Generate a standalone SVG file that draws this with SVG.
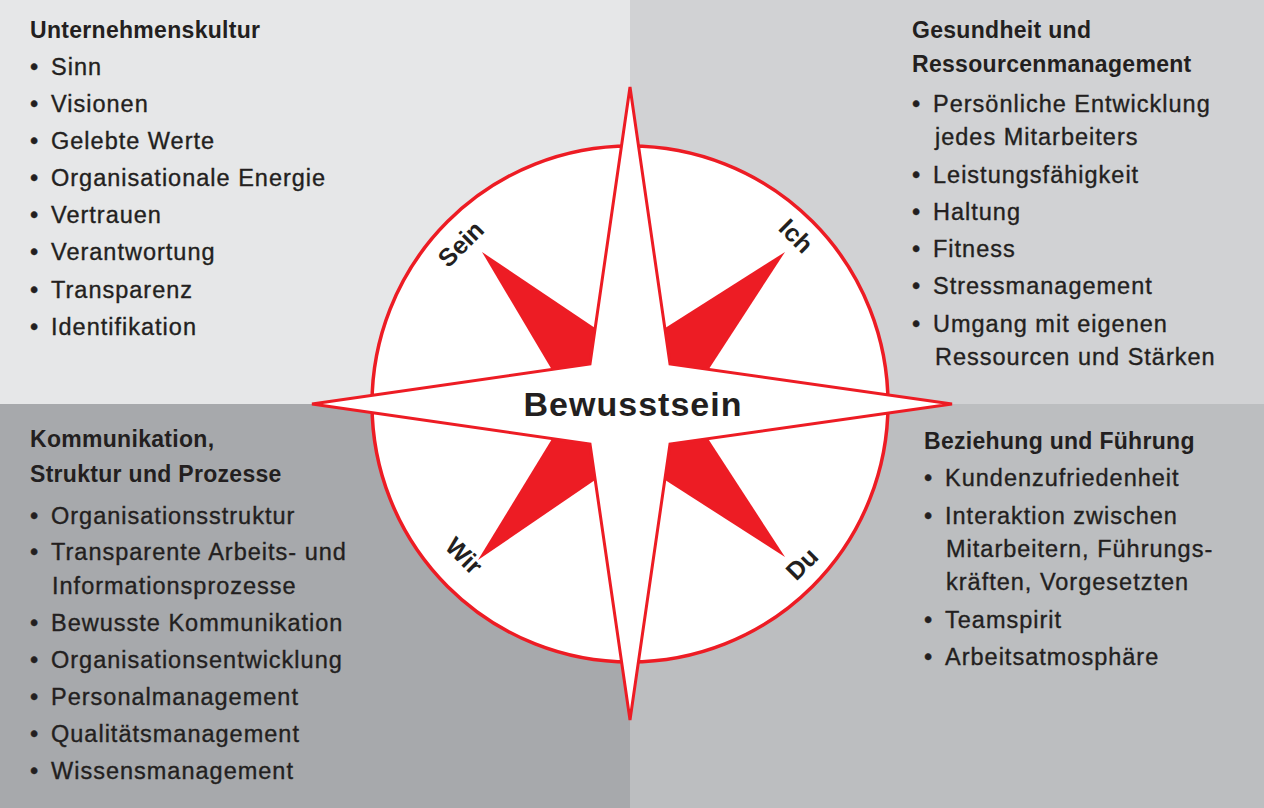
<svg xmlns="http://www.w3.org/2000/svg" width="1264" height="808" viewBox="0 0 1264 808">
<style>
text{font-family:"Liberation Sans",Arial,sans-serif;fill:#231f20}
.h{font-size:23px;font-weight:bold;letter-spacing:0.3px}
.i{font-size:23.5px;letter-spacing:1px;stroke:#231f20;stroke-width:0.35}
.d{font-size:25px;font-weight:bold}
.red{fill:#ed1c24}
</style>
<g id="background">
<rect x="0" y="0" width="630" height="404" fill="#e6e7e8"/>
<rect x="630" y="0" width="634" height="404" fill="#d1d2d4"/>
<rect x="0" y="404" width="630" height="404" fill="#a7a9ac"/>
<rect x="630" y="404" width="634" height="404" fill="#bcbec0"/>
</g>
<g id="compass">
<circle cx="630" cy="404" r="258" fill="#fff" stroke="#ed1c24" stroke-width="3.5"/>
<polygon class="red" points="482,252 555,375 630,404 598,330"/>
<polygon class="red" points="785,252 705,375 630,404 662,330"/>
<polygon class="red" points="478,560 555,434 630,404 598,478"/>
<polygon class="red" points="785,557 705,434 630,404 662,478"/>
<polygon points="630,87 670,364 952,404 670,444 630,720 590,444 312,404 590,364" fill="#fff" stroke="#ed1c24" stroke-width="3"/>
<text x="633" y="416" text-anchor="middle" style="font-size:34px;font-weight:bold;letter-spacing:1px">Bewusstsein</text>
<text class="d" transform="translate(467,250) rotate(-45)" text-anchor="middle">Sein</text>
<text class="d" transform="translate(790,242) rotate(45)" text-anchor="middle">Ich</text>
<text class="d" transform="translate(458,562) rotate(45)" text-anchor="middle">Wir</text>
<text class="d" transform="translate(808,570) rotate(-45)" text-anchor="middle">Du</text>
</g>
<g id="q-top-left">
<text class="h" x="30" y="38">Unternehmenskultur</text>
<text class="i" x="30" y="75">•<tspan x="51">Sinn</tspan></text>
<text class="i" x="30" y="112">•<tspan x="51">Visionen</tspan></text>
<text class="i" x="30" y="149">•<tspan x="51">Gelebte Werte</tspan></text>
<text class="i" x="30" y="186">•<tspan x="51">Organisationale Energie</tspan></text>
<text class="i" x="30" y="223">•<tspan x="51">Vertrauen</tspan></text>
<text class="i" x="30" y="260">•<tspan x="51">Verantwortung</tspan></text>
<text class="i" x="30" y="298">•<tspan x="51">Transparenz</tspan></text>
<text class="i" x="30" y="335">•<tspan x="51">Identifikation</tspan></text>
</g>
<g id="q-top-right">
<text class="h" x="912" y="38">Gesundheit und</text>
<text class="h" x="912" y="72">Ressourcenmanagement</text>
<text class="i" x="912" y="112">•<tspan x="933">Persönliche Entwicklung</tspan></text>
<text class="i" x="935" y="145">jedes Mitarbeiters</text>
<text class="i" x="912" y="183">•<tspan x="933">Leistungsfähigkeit</tspan></text>
<text class="i" x="912" y="220">•<tspan x="933">Haltung</tspan></text>
<text class="i" x="912" y="257">•<tspan x="933">Fitness</tspan></text>
<text class="i" x="912" y="294">•<tspan x="933">Stressmanagement</tspan></text>
<text class="i" x="912" y="332">•<tspan x="933">Umgang mit eigenen</tspan></text>
<text class="i" x="935" y="365">Ressourcen und Stärken</text>
</g>
<g id="q-bottom-left">
<text class="h" x="30" y="447">Kommunikation,</text>
<text class="h" x="30" y="482">Struktur und Prozesse</text>
<text class="i" x="30" y="524">•<tspan x="51">Organisationsstruktur</tspan></text>
<text class="i" x="30" y="560">•<tspan x="51">Transparente Arbeits- und</tspan></text>
<text class="i" x="52" y="594">Informationsprozesse</text>
<text class="i" x="30" y="631">•<tspan x="51">Bewusste Kommunikation</tspan></text>
<text class="i" x="30" y="668">•<tspan x="51">Organisationsentwicklung</tspan></text>
<text class="i" x="30" y="705">•<tspan x="51">Personalmanagement</tspan></text>
<text class="i" x="30" y="742">•<tspan x="51">Qualitätsmanagement</tspan></text>
<text class="i" x="30" y="779">•<tspan x="51">Wissensmanagement</tspan></text>
</g>
<g id="q-bottom-right">
<text class="h" x="924" y="449">Beziehung und Führung</text>
<text class="i" x="924" y="486">•<tspan x="945">Kundenzufriedenheit</tspan></text>
<text class="i" x="924" y="524">•<tspan x="945">Interaktion zwischen</tspan></text>
<text class="i" x="946" y="557">Mitarbeitern, Führungs-</text>
<text class="i" x="946" y="590">kräften, Vorgesetzten</text>
<text class="i" x="924" y="628">•<tspan x="945">Teamspirit</tspan></text>
<text class="i" x="924" y="665">•<tspan x="945">Arbeitsatmosphäre</tspan></text>
</g>
<g id="connectors"/>
</svg>
